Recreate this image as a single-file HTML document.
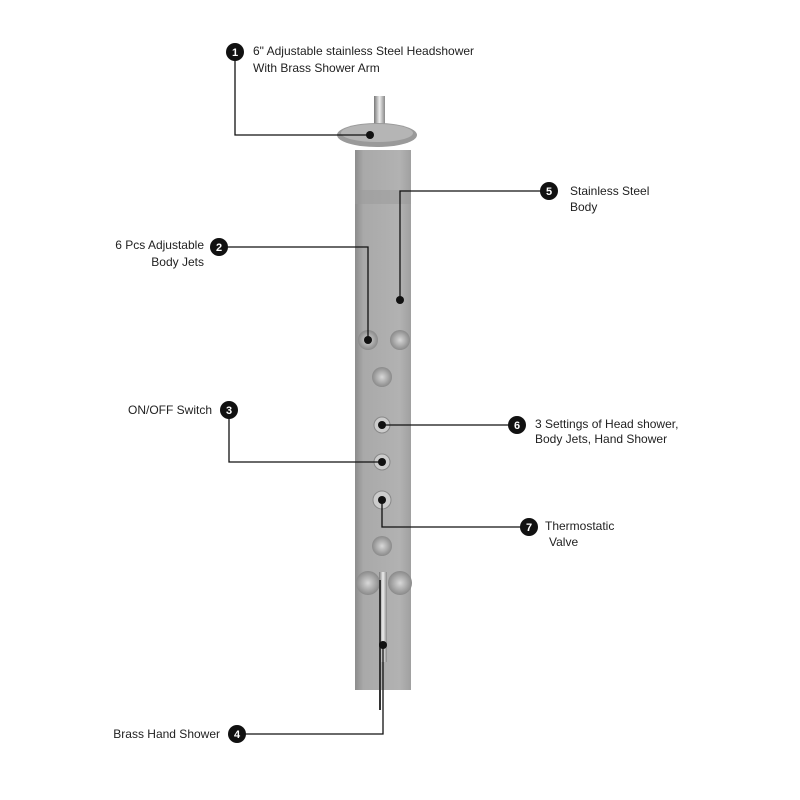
<!DOCTYPE html>
<html><head><style>
html,body{margin:0;padding:0;background:#fff;}
svg{display:block;}
text{font-family:"Liberation Sans",sans-serif;font-size:12px;fill:#222;}
.n{fill:#fff;font-weight:bold;font-size:11px;text-anchor:middle;}
</style></head><body>
<svg width="800" height="800" viewBox="0 0 800 800" xmlns="http://www.w3.org/2000/svg">
<defs>
<linearGradient id="pan" x1="0" x2="1">
<stop offset="0" stop-color="#8c8c8c"/><stop offset="0.15" stop-color="#a9a9a9"/><stop offset="0.8" stop-color="#b2b2b2"/><stop offset="1" stop-color="#a0a0a0"/>
</linearGradient>
<radialGradient id="btn"><stop offset="0" stop-color="#d8d8d8"/><stop offset="1" stop-color="#8a8a8a"/></radialGradient>
<linearGradient id="arm" x1="0" x2="1"><stop offset="0" stop-color="#777"/><stop offset="0.5" stop-color="#eee"/><stop offset="1" stop-color="#888"/></linearGradient>
</defs>
<!-- panel -->
<rect x="355" y="150" width="56" height="540" fill="url(#pan)"/>
<rect x="355" y="190" width="56" height="14" fill="#999" opacity="0.5"/>
<!-- shower arm -->
<rect x="374" y="96" width="11" height="28" fill="url(#arm)"/>
<ellipse cx="377" cy="135" rx="40" ry="12" fill="#9a9a9a"/>
<ellipse cx="377" cy="133" rx="36" ry="9" fill="#b5b5b5"/>
<!-- buttons -->
<circle cx="368" cy="340" r="10" fill="url(#btn)"/>
<circle cx="400" cy="340" r="10" fill="url(#btn)"/>
<circle cx="382" cy="377" r="10" fill="url(#btn)"/>
<circle cx="382" cy="425" r="8" fill="#ccc" stroke="#888"/>
<circle cx="382" cy="462" r="8" fill="#ccc" stroke="#888"/>
<circle cx="382" cy="500" r="9" fill="#ccc" stroke="#888"/>
<circle cx="382" cy="546" r="10" fill="url(#btn)"/>
<circle cx="368" cy="583" r="12" fill="url(#btn)"/>
<circle cx="400" cy="583" r="12" fill="url(#btn)"/>
<rect x="379" y="572" width="8" height="90" fill="url(#arm)"/>
<line x1="380" y1="580" x2="380" y2="710" stroke="#333" stroke-width="2"/>
<!-- leader lines -->
<g stroke="#111" stroke-width="1.3" fill="none">
<polyline points="235,52 235,135 370,135"/>
<polyline points="549,191 400,191 400,300"/>
<polyline points="219,247 368,247 368,338"/>
<polyline points="229,410 229,462 382,462"/>
<polyline points="517,425 382,425"/>
<polyline points="529,527 382,527 382,500"/>
<polyline points="237,734 383,734 383,645"/>
</g>
<g fill="#111">
<circle cx="370" cy="135" r="4"/><circle cx="400" cy="300" r="4"/><circle cx="368" cy="340" r="4"/>
<circle cx="382" cy="462" r="4"/><circle cx="382" cy="425" r="4"/><circle cx="382" cy="500" r="4"/><circle cx="383" cy="645" r="4"/>
<circle cx="235" cy="52" r="9"/><circle cx="549" cy="191" r="9"/><circle cx="219" cy="247" r="9"/>
<circle cx="229" cy="410" r="9"/><circle cx="517" cy="425" r="9"/><circle cx="529" cy="527" r="9"/><circle cx="237" cy="734" r="9"/>
</g>
<text class="n" x="235" y="56">1</text><text class="n" x="549" y="195">5</text><text class="n" x="219" y="251">2</text>
<text class="n" x="229" y="414">3</text><text class="n" x="517" y="429">6</text><text class="n" x="529" y="531">7</text><text class="n" x="237" y="738">4</text>
<text x="253" y="55">6" Adjustable stainless Steel Headshower</text>
<text x="253" y="72">With Brass Shower Arm</text>
<text x="570" y="195">Stainless Steel</text>
<text x="570" y="211">Body</text>
<text x="204" y="249" text-anchor="end">6 Pcs Adjustable</text>
<text x="204" y="266" text-anchor="end">Body Jets</text>
<text x="212" y="414" text-anchor="end">ON/OFF Switch</text>
<text x="535" y="428">3 Settings of Head shower,</text>
<text x="535" y="443">Body Jets, Hand Shower</text>
<text x="545" y="530">Thermostatic</text>
<text x="549" y="546">Valve</text>
<text x="220" y="738" text-anchor="end">Brass Hand Shower</text>
</svg>
</body></html>
